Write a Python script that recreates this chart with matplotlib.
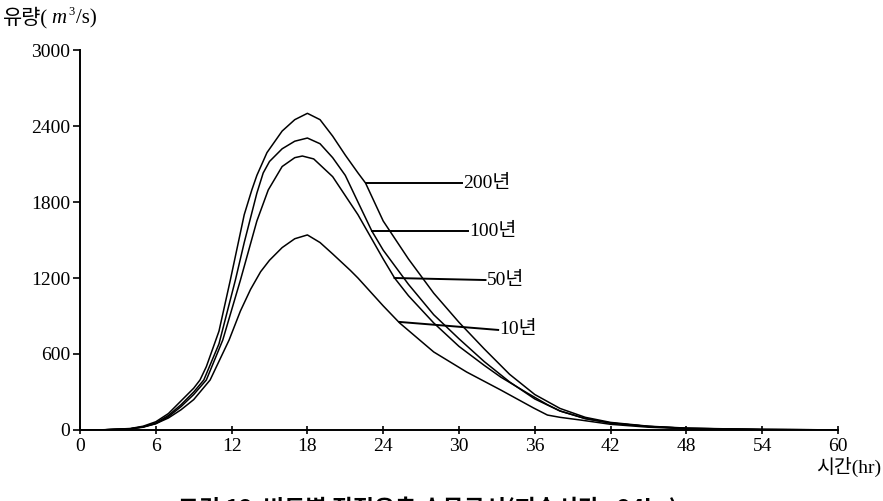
import matplotlib
matplotlib.use("Agg")
import matplotlib.pyplot as plt

plt.rcParams['font.family'] = ['Liberation Serif', 'Noto Sans CJK KR', 'DejaVu Sans']

# ---- data ----
t200 = [0, 2, 4, 5, 6, 7, 8, 9, 9.5, 10, 11, 11.9, 13, 13.6, 14, 14.8, 16, 17, 18, 19, 20, 21, 22, 22.6,
        24, 26, 28, 30, 32, 34, 36, 38, 40, 42, 45, 48, 54, 60]
q200 = [0, 2, 12, 30, 65, 130, 230, 330, 395, 500, 780, 1184, 1700, 1895, 2010, 2190, 2360, 2450, 2500, 2450,
        2320, 2170, 2030, 1950, 1650, 1350, 1080, 850, 640, 440, 280, 170, 100, 60, 30, 15, 4, 1]

t100 = [0, 2, 4, 5, 6, 7, 8, 9, 9.8, 11, 12.3, 13, 14, 14.5, 15, 16, 17, 18, 19, 20, 21, 22, 23.1,
        24, 26, 28, 30, 32, 34, 36, 38, 40, 42, 45, 48, 54, 60]
q100 = [0, 2, 10, 25, 55, 115, 200, 300, 395, 680, 1184, 1480, 1870, 2029, 2120, 2220, 2280, 2305, 2260,
        2150, 2010, 1800, 1571, 1420, 1150, 910, 720, 540, 380, 245, 150, 90, 55, 28, 13, 4, 1]

t50 = [0, 2, 4, 5, 6, 7, 8, 9, 10, 11.3, 12.7, 14, 14.9, 16, 17, 17.6, 18.5, 20, 22, 24, 24.9, 26, 28,
       30, 32, 33.3, 35.4, 37, 38, 40, 42, 45, 48, 54, 60]
q50 = [0, 2, 9, 22, 50, 105, 185, 280, 395, 710, 1184, 1650, 1895, 2080, 2150, 2163, 2140, 2000, 1700,
       1350, 1200, 1060, 845, 660, 510, 418, 292, 200, 150, 90, 55, 28, 13, 4, 1]

t10 = [0, 2, 4, 5, 6, 7, 8, 9, 10.3, 11.8, 12.7, 13.5, 14.3, 15, 16, 17, 18, 19, 20, 21.4, 22, 24, 25.3,
       28, 30.6, 33.3, 35.9, 37, 38, 39.6, 42, 45, 48, 54, 60]
q10 = [0, 2, 10, 25, 50, 95, 160, 240, 395, 710, 940, 1110, 1250, 1340, 1440, 1510, 1540, 1480, 1390,
       1260, 1200, 980, 845, 616, 458, 316, 174, 118, 100, 79, 45, 22, 10, 3, 1]

labels = ['200년', '100년', '50년', '10년']
# pointer: (curve point) -> (label point)
ptr_start = [(22.6, 1950), (23.1, 1571), (24.9, 1200), (25.3, 853)]
ptr_end = [(30.2, 1950), (30.7, 1571), (32.1, 1184), (33.1, 790)]

xticks = [0, 6, 12, 18, 24, 30, 36, 42, 48, 54, 60]
yticks = [0, 600, 1200, 1800, 2400, 3000]

# ---- figure ----
fig = plt.figure(figsize=(8.83, 5.01), dpi=100)
ax = fig.add_axes([80 / 883, 1 - 430 / 501, (838 - 80) / 883, (430 - 50) / 501])

for t, q in [(t200, q200), (t100, q100), (t50, q50), (t10, q10)]:
    ax.plot(t, q, color='black', lw=1.1, solid_joinstyle='round')

for lab, (x0, y0), (x1, y1) in zip(labels, ptr_start, ptr_end):
    ax.plot([x0, x1], [y0, y1], color='black', lw=1.4)
    ax.text(x1 + 0.1, y1, lab, fontsize=14, va='center', ha='left')

ax.set_xlim(0, 60)
ax.set_ylim(0, 3000)
ax.set_xticks(xticks)
ax.set_yticks(yticks)
ax.tick_params(axis='both', labelsize=14, width=1.2, colors='black')
ax.tick_params(axis='y', direction='out', length=5, pad=2)
ax.tick_params(axis='x', direction='inout', length=6, pad=3)
for s in ['top', 'right']:
    ax.spines[s].set_visible(False)
for s in ['left', 'bottom']:
    ax.spines[s].set_linewidth(1.4)

# y-axis title: 유량(m³/s) built from pieces so the Korean falls back correctly
base_y = 1 - 23 / 501
r = fig.canvas.get_renderer()
t1 = fig.text(3 / 883, base_y, '유량(', fontsize=15, va='baseline', ha='left')
fig.canvas.draw()
bb1 = t1.get_window_extent(r)
a2 = fig.text((bb1.x1 + 3) / 883, base_y, 'm', fontsize=15, style='italic',
              va='baseline', ha='left')
fig.canvas.draw()
bb2 = a2.get_window_extent(r)
a3 = fig.text((bb2.x1 + 2) / 883, base_y + 8 / 501, '3', fontsize=9,
              va='baseline', ha='left')
fig.canvas.draw()
bb3 = a3.get_window_extent(r)
fig.text((bb3.x1 + 2) / 883, base_y, '/s)', fontsize=15, va='baseline', ha='left')

fig.text(881 / 883, 1 - 467 / 501, '시간(hr)', fontsize=14, va='center', ha='right')
fig.text(428 / 883, 1 - 497 / 501, '그림 12  빈도별 직접유출 수문곡선(지속시간 : 24hr)',
         fontsize=16.5, fontweight='bold', va='top', ha='center',
         family=['Noto Sans CJK KR', 'DejaVu Sans'])

fig.savefig('out.png', dpi=100)
